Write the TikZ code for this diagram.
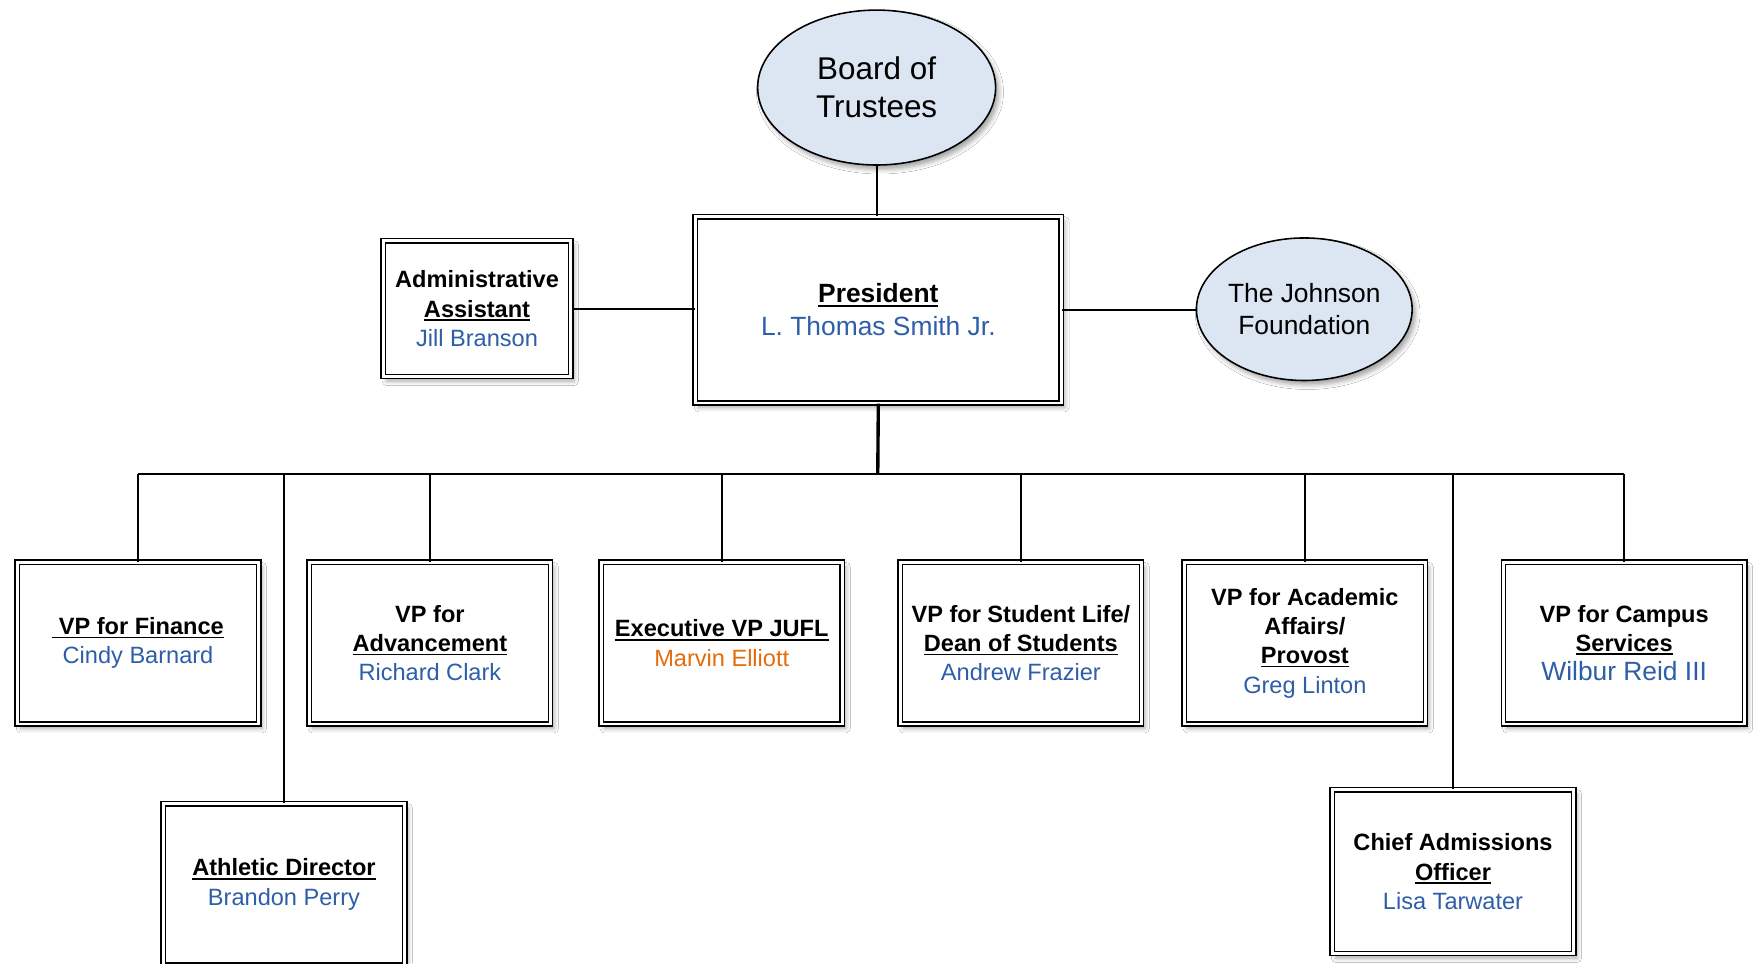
\documentclass[tikz,border=0pt]{standalone}
\usepackage{fontspec}
\setmainfont{Liberation Sans}
\usetikzlibrary{shapes.geometric,shadows.blur}

\definecolor{nameblue}{RGB}{46,94,168}
\definecolor{nameorange}{RGB}{228,108,10}
\definecolor{ovalfill}{RGB}{220,230,242}

\newcommand{\ulin}[1]{\setbox0\hbox{#1}\rlap{\rule[-3.2pt]{\wd0}{1.5pt}}\box0}

\begin{document}
\begin{tikzpicture}[x=1pt,y=-1pt,
    unitbox/.style={draw, double, line width=1.3pt, double distance=2.6pt, fill=white,
        align=center, inner sep=0pt, minimum width=215pt, minimum height=144pt,
        font=\fontsize{21}{26}\selectfont,
        blur shadow={shadow xshift=3pt, shadow yshift=-4pt, shadow blur radius=4pt, shadow opacity=35}},
    oval/.style={draw, ellipse, line width=1.4pt, fill=ovalfill, align=center, inner sep=0pt,
        blur shadow={shadow xshift=3pt, shadow yshift=-4pt, shadow blur radius=4pt, shadow opacity=35}},
    link/.style={line width=1.8pt}]
    \useasboundingbox (0,0) rectangle (1568,858);
    \fill[white] (0,0) rectangle (1568,858);

    % top level
    \node[oval, minimum width=212pt, minimum height=138pt, font=\fontsize{28}{34}\selectfont]
        (board) at (781,78) {Board of\\Trustees};
    \node[unitbox, minimum width=326pt, minimum height=166pt, font=\fontsize{23.5}{29}\selectfont]
        (pres) at (782.5,276) {\bfseries\ulin{President}\\\textcolor{nameblue}{L. Thomas Smith Jr.}};
    \node[unitbox, minimum width=167pt, minimum height=121pt]
        (adm) at (425,275) {\bfseries Administrative\\\bfseries\ulin{Assistant}\\\textcolor{nameblue}{Jill Branson}};
    \node[oval, minimum width=190pt, minimum height=127pt, font=\fontsize{23.5}{28}\selectfont]
        (john) at (1162,275.5) {The Johnson\\Foundation};

    % vice presidents
    \node[unitbox] (fin) at (123,573) {\bfseries\ulin{\ VP for Finance}\\\textcolor{nameblue}{Cindy Barnard}};
    \node[unitbox] (adv) at (383,573) {\bfseries VP for\\\bfseries\ulin{Advancement}\\\textcolor{nameblue}{Richard Clark}};
    \node[unitbox] (exec) at (643,573) {\bfseries\ulin{Executive VP JUFL}\\\textcolor{nameorange}{Marvin Elliott}};
    \node[unitbox] (stud) at (909.5,573) {\bfseries VP for Student Life/\\\bfseries\ulin{Dean of Students}\\\textcolor{nameblue}{Andrew Frazier}};
    \node[unitbox] (acad) at (1162.5,573) {\bfseries VP for Academic\\\bfseries Affairs/\\\bfseries\ulin{Provost}\\\textcolor{nameblue}{Greg Linton}};
    \node[unitbox] (camp) at (1447,573) {\bfseries VP for Campus\\\bfseries\ulin{Services}\\\textcolor{nameblue}{\fontsize{23.5}{27}\selectfont Wilbur Reid III}};

    % lower level
    \node[unitbox] (ath) at (253,788) {\bfseries\ulin{Athletic Director}\\\textcolor{nameblue}{Brandon Perry}};
    \node[unitbox, minimum height=146pt] (cao) at (1294.5,776.5) {\bfseries Chief Admissions\\\bfseries\ulin{Officer}\\\textcolor{nameblue}{Lisa Tarwater}};

    % connectors
    \coordinate (bus) at (782,422);
    \draw[link] (board.south) -- (board.south |- pres.north);
    \draw[link] (adm.east) -- (adm.east -| pres.west);
    \draw[link] (pres.east) -- (pres.east -| john.west);
    \draw[link, line width=3pt] (pres.south) -- (bus);
    \draw[link] (fin.north |- bus) -- (camp.north |- bus);
    \foreach \n in {fin,ath,adv,exec,stud,acad,cao,camp}
        \draw[link] (\n.north |- bus) -- (\n.north);

\end{tikzpicture}
\end{document}
